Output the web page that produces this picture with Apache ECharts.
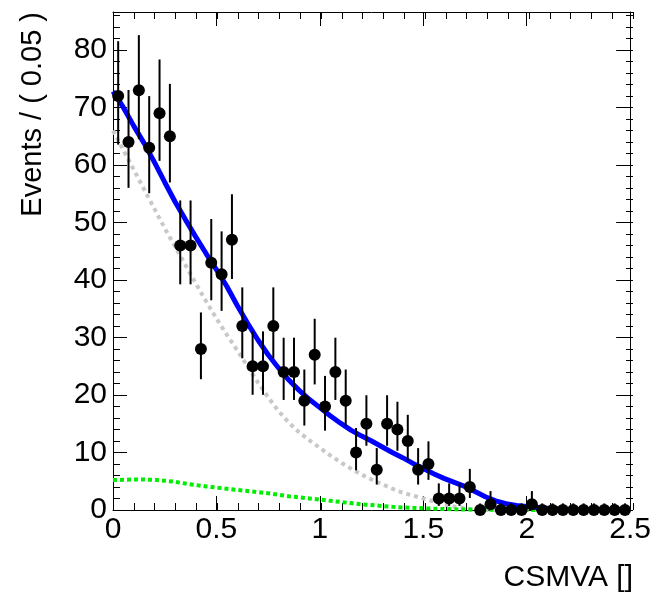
<!DOCTYPE html>
<html>
<head>
<meta charset="utf-8">
<script src="https://cdn.jsdelivr.net/npm/echarts@6/dist/echarts.min.js"></script>
<style>html,body{margin:0;padding:0;background:#fff;}#c{width:654px;height:595px;}</style>
</head>
<body>
<div id="c"></div>
<script>
// Data: bin centres (width 0.05) and observed counts
const binCenters = [0.025,0.075,0.125,0.175,0.225,0.275,0.325,0.375,0.425,0.475,
  0.525,0.575,0.625,0.675,0.725,0.775,0.825,0.875,0.925,0.975,
  1.025,1.075,1.125,1.175,1.225,1.275,1.325,1.375,1.425,1.475,
  1.525,1.575,1.625,1.675,1.725,1.775,1.825,1.875,1.925,1.975,
  2.025,2.075,2.125,2.175,2.225,2.275,2.325,2.375,2.425,2.475];
const counts = [72,64,73,63,69,65,46,46,28,43,
  41,47,32,25,25,32,24,24,19,27,
  18,24,19,10,15,7,15,14,12,7,
  8,2,2,2,4,0,1,0,0,0,
  1,0,0,0,0,0,0,0,0,0];

// Curves
const curveX = [0,0.05,0.1,0.15,0.2,0.25,0.3,0.35,0.4,0.45,
  0.5,0.55,0.6,0.65,0.7,0.75,0.8,0.85,0.9,0.95,
  1.0,1.05,1.1,1.15,1.2,1.25,1.3,1.35,1.4,1.45,
  1.5,1.55,1.6,1.65,1.7,1.75,1.8,1.85,1.9,1.95,
  2.0,2.05,2.1,2.15,2.2,2.25,2.3,2.35,2.4,2.45,2.5];
const totalFit = [72.8,70,66.8,63.8,60.5,57,53.6,50.5,47.5,44.6,
  41.8,38.9,35.6,32.5,29.6,27,24.7,22.6,20.8,19.2,
  17.8,16.4,15.1,13.9,12.9,12,11,10,9.1,8.1,
  7.2,6.3,5.5,4.8,4.1,3.2,2.3,1.6,1.1,0.8,
  0.6,0.45,0.3,0.2,0.1,0.05,0.03,0.02,0.01,0,0];
const background = [66,62.6,59.2,55.8,52.4,49,45.8,42.6,39.4,36.3,
  33.3,30.5,27.8,25,22.2,19.6,17.2,15.2,13.5,12.1,
  10.8,9.5,8.3,7.2,6.2,5.3,4.5,3.7,3.0,2.5,
  2.0,1.5,1.0,0.6,0.3,0.1,0.02,0,0,0,
  0,0,0,0,0,0,0,0,0,0,0];
const signal = [5.2,5.25,5.3,5.3,5.25,5.1,4.9,4.6,4.35,4.1,
  3.9,3.7,3.5,3.3,3.1,2.9,2.65,2.4,2.2,2.0,
  1.8,1.6,1.4,1.2,1.0,0.85,0.7,0.55,0.45,0.37,
  0.3,0.23,0.17,0.12,0.08,0.05,0.03,0.02,0,0,
  0,0,0,0,0,0,0,0,0,0,0];

// Axis ticks
const xMajorTicks = [0,0.5,1,1.5,2,2.5];
const yMajorTicks = [0,10,20,30,40,50,60,70,80];

// Poisson 68% central interval (as used for RooFit data points)
function poissonInterval(n){
  if(n===0) return [0,1.1478];
  const lo = n*Math.pow(1-1/(9*n)-1/(3*Math.sqrt(n)),3);
  const m = n+1;
  const hi = m*Math.pow(1-1/(9*m)+1/(3*Math.sqrt(m)),3);
  return [lo,hi];
}

const FONT = "'Liberation Sans', Arial, Helvetica, sans-serif";
const X_MIN = 0, X_MAX = 2.5, Y_MIN = 0, Y_MAX = 86.6;

const pts = binCenters.map((x,i)=>[x,counts[i]]);
const errs = binCenters.map((x,i)=>{const iv=poissonInterval(counts[i]);return [x,iv[0],iv[1]];});
const line = (ys)=>curveX.map((x,i)=>[x,ys[i]]);

const gridRect = {left:113, top:12, width:520, height:498};
function xAx(grid, pos, interval, len, labels){
  return {type:'value', gridIndex:grid, position:pos, min:X_MIN, max:X_MAX, interval:interval,
    axisLine:{show:grid===0, onZero:false, lineStyle:{color:'#000', width:1}},
    axisTick:{show:true, inside:true, length:len, lineStyle:{color:'#000', width:1}},
    axisLabel: labels ? {show:true, color:'#000', fontFamily:FONT, fontSize:30, margin:5,
      formatter:(v)=> (xMajorTicks.indexOf(+v.toFixed(2))>=0 ? String(+v.toFixed(2)) : '')} : {show:false},
    splitLine:{show:false}};
}
function yAx(grid, pos, interval, len, labels){
  return {type:'value', gridIndex:grid, position:pos, min:Y_MIN, max:Y_MAX, interval:interval,
    axisLine:{show:grid===0, onZero:false, lineStyle:{color:'#000', width:1}},
    axisTick:{show:true, inside:true, length:len, lineStyle:{color:'#000', width:1}},
    axisLabel: labels ? {show:true, color:'#000', fontFamily:FONT, fontSize:30, margin:6, showMaxLabel:false,
      formatter:(v)=> (yMajorTicks.indexOf(Math.round(v))>=0 && Math.abs(v-Math.round(v))<1e-6 ? String(Math.round(v)) : '')} : {show:false},
    splitLine:{show:false}};
}

const chart = echarts.init(document.getElementById('c'), null, {renderer:'canvas'});
chart.setOption({
  animation:false,
  backgroundColor:'#fff',
  grid:[Object.assign({},gridRect), Object.assign({},gridRect)],
  xAxis:[xAx(0,'bottom',0.5,14,true), xAx(0,'top',0.5,14,false), xAx(1,'bottom',0.1,7,false), xAx(1,'top',0.1,7,false)],
  yAxis:[yAx(0,'left',10,14,true), yAx(0,'right',10,14,false), yAx(1,'left',2,7,false), yAx(1,'right',2,7,false)],
  series:[
    {type:'line', name:'background', xAxisIndex:0, yAxisIndex:0, data:line(background), showSymbol:false, smooth:false,
      lineStyle:{color:'#c8c8c8', width:4, type:[4,4]}, z:2},
    {type:'line', name:'signal', xAxisIndex:0, yAxisIndex:0, data:line(signal), showSymbol:false, smooth:false,
      lineStyle:{color:'#00ee00', width:4, type:[4,3]}, z:2},
    {type:'line', name:'total', xAxisIndex:0, yAxisIndex:0, data:line(totalFit), showSymbol:false, smooth:false,
      lineStyle:{color:'#0000ff', width:5}, z:3},
    {type:'custom', name:'errors', xAxisIndex:0, yAxisIndex:0, data:errs, encode:{x:0, y:[1,2]}, z:4,
      renderItem:function(params, api){
        const x = api.value(0);
        const p1 = api.coord([x, api.value(1)]);
        const p2 = api.coord([x, api.value(2)]);
        return {type:'line', shape:{x1:p1[0], y1:p1[1], x2:p2[0], y2:p2[1]}, style:{stroke:'#000', lineWidth:2}};
      }},
    {type:'scatter', name:'data', xAxisIndex:0, yAxisIndex:0, data:pts, symbol:'circle', symbolSize:12,
      itemStyle:{color:'#000', opacity:1}, z:5}
  ],
  graphic:[
    {type:'text', x:633, y:578, style:{text:'CSMVA []', font:'30px '+FONT, fill:'#000', align:'right', verticalAlign:'middle'}},
    {type:'text', x:33, y:12, rotation:Math.PI/2, style:{text:'Events / ( 0.05 )', font:'29px '+FONT, fill:'#000', align:'right', verticalAlign:'middle'}}
  ]
});
</script>
</body>
</html>
